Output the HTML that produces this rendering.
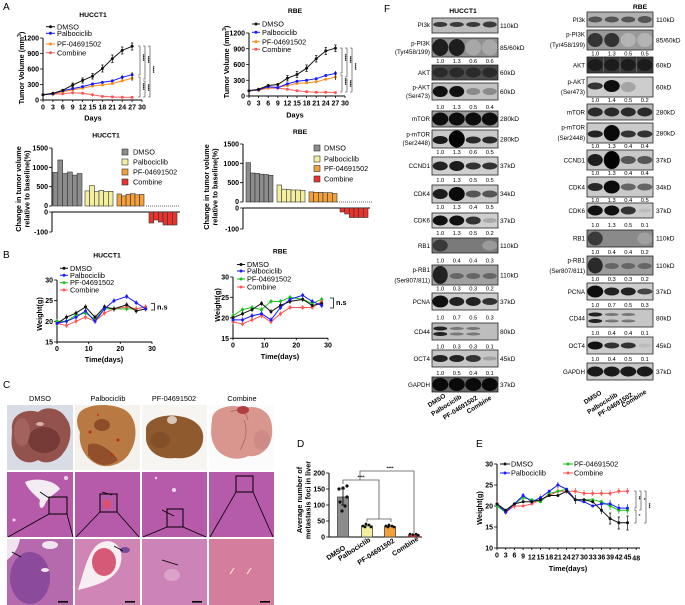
<!DOCTYPE html>
<html><head><meta charset="utf-8">
<style>
html,body{margin:0;padding:0;background:#fff;}
svg{display:block;font-family:"Liberation Sans",Arial,sans-serif;}
.tk{font-size:7px;font-weight:bold;}
.lg{font-size:7.3px;}
.tt{font-size:6.8px;font-weight:bold;}
.ax{font-size:7.3px;font-weight:bold;}
.pl{font-size:10px;}
.bl{font-size:6.2px;}
.kd{font-size:6.6px;}
.nm{font-size:5.8px;}
.st{font-size:4.5px;font-weight:bold;}
.rl{font-size:6.5px;font-weight:bold;}
</style></head><body>
<svg width="685" height="605" viewBox="0 0 685 605" xmlns="http://www.w3.org/2000/svg">
<rect width="685" height="605" fill="#fff"/>
<defs>
<marker id="mk" markerWidth="4" markerHeight="4" refX="2" refY="2" markerUnits="userSpaceOnUse"><circle cx="2" cy="2" r="1.5" fill="#111"/></marker>
<marker id="mb" markerWidth="4" markerHeight="4" refX="2" refY="2" markerUnits="userSpaceOnUse"><circle cx="2" cy="2" r="1.5" fill="#1a1aff"/></marker>
<marker id="mo" markerWidth="4" markerHeight="4" refX="2" refY="2" markerUnits="userSpaceOnUse"><circle cx="2" cy="2" r="1.5" fill="#ff8c1a"/></marker>
<marker id="mg" markerWidth="4" markerHeight="4" refX="2" refY="2" markerUnits="userSpaceOnUse"><circle cx="2" cy="2" r="1.5" fill="#19c219"/></marker>
<marker id="mr" markerWidth="4" markerHeight="4" refX="2" refY="2" markerUnits="userSpaceOnUse"><circle cx="2" cy="2" r="1.5" fill="#ff5555"/></marker>
</defs>

<!-- ============ PANEL A top HUCCT1 ============ -->
<text x="3" y="10" class="pl">A</text>
<text x="93" y="17" class="tt" text-anchor="middle">HUCCT1</text>
<path d="M43 38V100H142" fill="none" stroke="#000" stroke-width="1"/>
<path d="M40 38h3M40 53.5h3M40 69h3M40 84.5h3M40 100h3M43 100v2M52.9 100v2M62.8 100v2M72.7 100v2M82.6 100v2M92.5 100v2M102.4 100v2M112.3 100v2M122.2 100v2M132.1 100v2M142 100v2" stroke="#000" stroke-width="0.8"/>
<g class="tk" text-anchor="end"><text x="39" y="40.5">1200</text><text x="39" y="56">900</text><text x="39" y="71.5">600</text><text x="39" y="87">300</text><text x="39" y="102.5">0</text></g>
<g class="tk" text-anchor="middle"><text x="43" y="109.5">0</text><text x="52.9" y="109.5">3</text><text x="62.8" y="109.5">6</text><text x="72.7" y="109.5">9</text><text x="82.6" y="109.5">12</text><text x="92.5" y="109.5">15</text><text x="102.4" y="109.5">18</text><text x="112.3" y="109.5">21</text><text x="122.2" y="109.5">24</text><text x="132.1" y="109.5">27</text><text x="142" y="109.5">30</text></g>
<text class="ax" x="93" y="120.5" text-anchor="middle">Days</text>
<text class="ax" transform="translate(24,68) rotate(-90)" text-anchor="middle">Tumor Volume (mm<tspan font-size="5" dy="-3">3</tspan><tspan dy="3">)</tspan></text>
<polyline points="43,94.8 52.9,94.3 62.8,93.8 72.7,92.8 82.6,93.3 92.5,94.8 102.4,96.4 112.3,96.9 122.2,97.2 132.1,97.4" fill="none" stroke="#ff6060" stroke-width="1" marker-start="url(#mr)" marker-mid="url(#mr)" marker-end="url(#mr)"/>
<polyline points="43,94.8 52.9,94.3 62.8,91.7 72.7,89.7 82.6,88.1 92.5,86 102.4,85 112.3,83.5 122.2,80.9 132.1,78.3" fill="none" stroke="#ff8c1a" stroke-width="1" marker-start="url(#mo)" marker-mid="url(#mo)" marker-end="url(#mo)"/>
<polyline points="43,94.8 52.9,93.8 62.8,90.7 72.7,88.6 82.6,86.6 92.5,84 102.4,82.4 112.3,80.9 122.2,77.3 132.1,74.7" fill="none" stroke="#1a1aff" stroke-width="1" marker-start="url(#mb)" marker-mid="url(#mb)" marker-end="url(#mb)"/>
<polyline points="43,94.8 52.9,93.3 62.8,90.2 72.7,85 82.6,80.4 92.5,76.2 102.4,68.5 112.3,58.7 122.2,50.4 132.1,46.3" fill="none" stroke="#111" stroke-width="1" marker-start="url(#mk)" marker-mid="url(#mk)" marker-end="url(#mk)"/>
<path d="M72.7 83V87M82.6 78V83M92.5 73.5V79M102.4 65V72M112.3 55V62.5M122.2 47V54M132.1 43V50M71.5 83h2.4M71.5 87h2.4M81.4 78h2.4M81.4 83h2.4M91.3 73.5h2.4M91.3 79h2.4M101.2 65h2.4M101.2 72h2.4M111.1 55h2.4M111.1 62.5h2.4M121 47h2.4M121 54h2.4M130.9 43h2.4M130.9 50h2.4M122.2 75v4.5M132.1 72v5.5M132.1 75.5v5.5" stroke="#111" stroke-width="0.7"/>
<path d="M138 46h2V75h-2M138 77h2V97h-2M143 46h2V79h-2M143 81h2V97h-2M148 46h2V97h-2" fill="none" stroke="#333" stroke-width="0.6"/>
<g class="st"><text transform="translate(141.5,54) rotate(90)">****</text><text transform="translate(141.5,83) rotate(90)">****</text><text transform="translate(146.5,56) rotate(90)">****</text><text transform="translate(146.5,84) rotate(90)">****</text><text transform="translate(151.5,66) rotate(90)">****</text></g>
<g class="lg">
<polyline points="46,26.7 50.5,26.7 55,26.7" stroke="#111" stroke-width="1" marker-mid="url(#mk)"/><text x="57" y="29.3">DMSO</text>
<polyline points="46,33.3 50.5,33.3 55,33.3" stroke="#1a1aff" stroke-width="1" marker-mid="url(#mb)"/><text x="57" y="35.9">Palbociclib</text>
<polyline points="46,44 50.5,44 55,44" stroke="#ff8c1a" stroke-width="1" marker-mid="url(#mo)"/><text x="57" y="46.6">PF-04691502</text>
<polyline points="46,52.7 50.5,52.7 55,52.7" stroke="#ff6060" stroke-width="1" marker-mid="url(#mr)"/><text x="57" y="55.3">Combine</text>
</g>

<!-- ============ PANEL A top RBE ============ -->
<text x="295" y="13" class="tt" text-anchor="middle">RBE</text>
<path d="M249 33V96H345" fill="none" stroke="#000" stroke-width="1"/>
<path d="M246 33h3M246 48.75h3M246 64.5h3M246 80.25h3M246 96h3M249 96v2M258.6 96v2M268.2 96v2M277.8 96v2M287.4 96v2M297 96v2M306.6 96v2M316.2 96v2M325.8 96v2M335.4 96v2M345 96v2" stroke="#000" stroke-width="0.8"/>
<g class="tk" text-anchor="end"><text x="245" y="35.5">1200</text><text x="245" y="51.25">900</text><text x="245" y="67">600</text><text x="245" y="82.75">300</text><text x="245" y="98.5">0</text></g>
<g class="tk" text-anchor="middle"><text x="249" y="105.5">0</text><text x="258.6" y="105.5">3</text><text x="268.2" y="105.5">6</text><text x="277.8" y="105.5">9</text><text x="287.4" y="105.5">12</text><text x="297" y="105.5">15</text><text x="306.6" y="105.5">18</text><text x="316.2" y="105.5">21</text><text x="325.8" y="105.5">24</text><text x="335.4" y="105.5">27</text><text x="345" y="105.5">30</text></g>
<text class="ax" x="295" y="117.5" text-anchor="middle">Days</text>
<text class="ax" transform="translate(229,62) rotate(-90)" text-anchor="middle">Tumor Volume (mm<tspan font-size="5" dy="-3">3</tspan><tspan dy="3">)</tspan></text>
<polyline points="249,90.8 258.6,90.2 268.2,88.1 277.8,88.1 287.4,89.2 297,90.8 306.6,91.8 316.2,92.3 325.8,92.3 335.4,92.6" fill="none" stroke="#ff6060" stroke-width="1" marker-start="url(#mr)" marker-mid="url(#mr)" marker-end="url(#mr)"/>
<polyline points="249,90.8 258.6,90.2 268.2,87.6 277.8,87.1 287.4,85.5 297,83.4 306.6,82.9 316.2,81.8 325.8,79.2 335.4,77.1" fill="none" stroke="#ff8c1a" stroke-width="1" marker-start="url(#mo)" marker-mid="url(#mo)" marker-end="url(#mo)"/>
<polyline points="249,90.8 258.6,89.7 268.2,86.6 277.8,87.6 287.4,83.9 297,81.3 306.6,80.3 316.2,78.7 325.8,75.5 335.4,73.4" fill="none" stroke="#1a1aff" stroke-width="1" marker-start="url(#mb)" marker-mid="url(#mb)" marker-end="url(#mb)"/>
<polyline points="249,90.8 258.6,89.2 268.2,85.5 277.8,84.5 287.4,78.2 297,74.5 306.6,68.2 316.2,58.7 325.8,50.9 335.4,48.2" fill="none" stroke="#111" stroke-width="1" marker-start="url(#mk)" marker-mid="url(#mk)" marker-end="url(#mk)"/>
<path d="M287.4 75.5V81M297 71.5V77.5M306.6 65V71.5M316.2 55.5V62M325.8 47.5V54.5M335.4 45V51.5M286.2 75.5h2.4M286.2 81h2.4M295.8 71.5h2.4M295.8 77.5h2.4M305.4 65h2.4M305.4 71.5h2.4M315 55.5h2.4M315 62h2.4M324.6 47.5h2.4M324.6 54.5h2.4M334.2 45h2.4M334.2 51.5h2.4M335.4 71v5M335.4 74.5v5.5" stroke="#111" stroke-width="0.7"/>
<path d="M340 48h2V73h-2M340 75h2V92h-2M345 48h2V77h-2M345 79h2V92h-2M350 48h2V92h-2" fill="none" stroke="#333" stroke-width="0.6"/>
<g class="st"><text transform="translate(343.5,54) rotate(90)">****</text><text transform="translate(343.5,78) rotate(90)">****</text><text transform="translate(348.5,56) rotate(90)">****</text><text transform="translate(348.5,80) rotate(90)">****</text><text transform="translate(353.5,63) rotate(90)">****</text></g>
<g class="lg">
<polyline points="252,24 256,24 260,24" stroke="#111" stroke-width="1" marker-mid="url(#mk)"/><text x="262" y="26.6">DMSO</text>
<polyline points="252,32.3 256,32.3 260,32.3" stroke="#1a1aff" stroke-width="1" marker-mid="url(#mb)"/><text x="262" y="34.9">Palbociclib</text>
<polyline points="252,41.7 256,41.7 260,41.7" stroke="#ff8c1a" stroke-width="1" marker-mid="url(#mo)"/><text x="262" y="44.3">PF-04691502</text>
<polyline points="252,49.3 256,49.3 260,49.3" stroke="#ff6060" stroke-width="1" marker-mid="url(#mr)"/><text x="262" y="51.9">Combine</text>
</g>

<!-- ============ PANEL A waterfall HUCCT1 ============ -->
<text x="106" y="137.5" class="tt" text-anchor="middle">HUCCT1</text>
<path d="M52 148V206M52 212V232M52 212H180" fill="none" stroke="#000" stroke-width="1"/>
<path d="M49 148h3M49 167.3h3M49 186.7h3M49 206h3M49 212h3M49 232h3" stroke="#000" stroke-width="0.8"/>
<g class="tk" text-anchor="end"><text x="48" y="150.5">1500</text><text x="48" y="169.8">1000</text><text x="48" y="189.2">500</text><text x="48" y="208">0</text><text x="48" y="214.5">0</text><text x="48" y="234.5">-100</text></g>
<text class="ax" transform="translate(21,189) rotate(-90)" text-anchor="middle">Change in tumor volume</text>
<text class="ax" transform="translate(29.5,189) rotate(-90)" text-anchor="middle">relative to baseline(%)</text>
<g stroke="#333" stroke-width="0.6">
<g fill="#8c8c8c"><rect x="53" y="172.4" width="4.83" height="33.6"/><rect x="57.83" y="160" width="4.83" height="46"/><rect x="62.67" y="173.5" width="4.83" height="32.5"/><rect x="67.5" y="172" width="4.83" height="34"/><rect x="72.33" y="175.1" width="4.83" height="30.9"/><rect x="77.17" y="173.5" width="4.83" height="32.5"/></g>
<g fill="#f3ef9e"><rect x="85" y="190.9" width="4.67" height="15.1"/><rect x="89.67" y="185.5" width="4.67" height="20.5"/><rect x="94.33" y="191.7" width="4.67" height="14.3"/><rect x="99" y="190.5" width="4.67" height="15.5"/><rect x="103.67" y="191.7" width="4.67" height="14.3"/><rect x="108.33" y="191.3" width="4.67" height="14.7"/></g>
<g fill="#f4a03a"><rect x="117" y="194" width="4.5" height="12"/><rect x="121.5" y="195.9" width="4.5" height="10.1"/><rect x="126" y="194.4" width="4.5" height="11.6"/><rect x="130.5" y="193.6" width="4.5" height="12.4"/><rect x="135" y="194.8" width="4.5" height="11.2"/><rect x="139.5" y="194.4" width="4.5" height="11.6"/></g>
<g fill="#e8342c"><rect x="149" y="212" width="4.67" height="11"/><rect x="153.67" y="212" width="4.67" height="8"/><rect x="158.33" y="212" width="4.67" height="10"/><rect x="163" y="212" width="4.67" height="13"/><rect x="167.67" y="212" width="4.67" height="13"/><rect x="172.33" y="212" width="4.67" height="13"/></g>
</g>
<path d="M146 206H180" stroke="#333" stroke-width="0.7" stroke-dasharray="1 1"/>
<g class="lg">
<rect x="122" y="149" width="6" height="6" fill="#8c8c8c" stroke="#333" stroke-width="0.6"/><text x="133" y="154.5">DMSO</text>
<rect x="122" y="159" width="6" height="6" fill="#f3ef9e" stroke="#333" stroke-width="0.6"/><text x="133" y="164.5">Palbociclib</text>
<rect x="122" y="169" width="6" height="6" fill="#f4a03a" stroke="#333" stroke-width="0.6"/><text x="133" y="174.5">PF-04691502</text>
<rect x="122" y="179" width="6" height="6" fill="#e8342c" stroke="#333" stroke-width="0.6"/><text x="133" y="184.5">Combine</text>
</g>

<!-- ============ PANEL A waterfall RBE ============ -->
<text x="300" y="134" class="tt" text-anchor="middle">RBE</text>
<path d="M243 144V202M243 208V229M243 208H370" fill="none" stroke="#000" stroke-width="1"/>
<path d="M240 144h3M240 163.3h3M240 182.7h3M240 202h3M240 208h3M240 229h3" stroke="#000" stroke-width="0.8"/>
<g class="tk" text-anchor="end"><text x="239" y="146.5">1500</text><text x="239" y="165.8">1000</text><text x="239" y="185.2">500</text><text x="239" y="204">0</text><text x="239" y="210.5">0</text><text x="239" y="231.5">-100</text></g>
<text class="ax" transform="translate(209,187) rotate(-90)" text-anchor="middle">Change in tumor volume</text>
<text class="ax" transform="translate(217.5,187) rotate(-90)" text-anchor="middle">relative to baseline(%)</text>
<g stroke="#333" stroke-width="0.6">
<g fill="#8c8c8c"><rect x="246" y="162.6" width="4.5" height="39.4"/><rect x="250.5" y="173" width="4.5" height="29"/><rect x="255" y="173.4" width="4.5" height="28.6"/><rect x="259.5" y="174.2" width="4.5" height="27.8"/><rect x="264" y="174.5" width="4.5" height="27.5"/><rect x="268.5" y="175.3" width="4.5" height="26.7"/></g>
<g fill="#f3ef9e"><rect x="277" y="185" width="4.67" height="17"/><rect x="281.67" y="189.2" width="4.67" height="12.8"/><rect x="286.33" y="189.6" width="4.67" height="12.4"/><rect x="291" y="190" width="4.67" height="12"/><rect x="295.67" y="190" width="4.67" height="12"/><rect x="300.33" y="190.4" width="4.67" height="11.6"/></g>
<g fill="#f4a03a"><rect x="309" y="191.9" width="4.67" height="10.1"/><rect x="313.67" y="192.3" width="4.67" height="9.7"/><rect x="318.33" y="192.3" width="4.67" height="9.7"/><rect x="323" y="192.7" width="4.67" height="9.3"/><rect x="327.67" y="192.7" width="4.67" height="9.3"/><rect x="332.33" y="193.5" width="4.67" height="8.5"/></g>
<g fill="#e8342c"><rect x="340" y="208" width="4.67" height="4"/><rect x="344.67" y="208" width="4.67" height="6"/><rect x="349.33" y="208" width="4.67" height="9.5"/><rect x="354" y="208" width="4.67" height="9.5"/><rect x="358.67" y="208" width="4.67" height="9.5"/><rect x="363.33" y="208" width="4.67" height="9.5"/></g>
</g>
<path d="M337 202H372" stroke="#333" stroke-width="0.7" stroke-dasharray="1 1"/>
<g class="lg">
<rect x="314" y="145" width="6" height="6" fill="#8c8c8c" stroke="#333" stroke-width="0.6"/><text x="324" y="150.5">DMSO</text>
<rect x="314" y="156" width="6" height="6" fill="#f3ef9e" stroke="#333" stroke-width="0.6"/><text x="324" y="161.5">Palbociclib</text>
<rect x="314" y="165.5" width="6" height="6" fill="#f4a03a" stroke="#333" stroke-width="0.6"/><text x="324" y="171">PF-04691502</text>
<rect x="314" y="176" width="6" height="6" fill="#e8342c" stroke="#333" stroke-width="0.6"/><text x="324" y="181.5">Combine</text>
</g>

<!-- ============ PANEL B HUCCT1 ============ -->
<text x="3" y="258" class="pl">B</text>
<text x="107" y="257.5" class="tt" text-anchor="middle">HUCCT1</text>
<path d="M57 280V342H152" fill="none" stroke="#000" stroke-width="1"/>
<path d="M54 280h3M54 300.7h3M54 321.3h3M54 342h3M57 342v2M88.7 342v2M120.3 342v2M152 342v2" stroke="#000" stroke-width="0.8"/>
<g class="tk" text-anchor="end"><text x="53" y="282.5">30</text><text x="53" y="303.2">25</text><text x="53" y="323.8">20</text><text x="53" y="344.5">15</text></g>
<g class="tk" text-anchor="middle"><text x="57" y="351">0</text><text x="88.7" y="351">10</text><text x="120.3" y="351">20</text><text x="152" y="351">30</text></g>
<text class="ax" x="104" y="362" text-anchor="middle">Time(days)</text>
<text class="ax" transform="translate(42,314) rotate(-90)" text-anchor="middle">Weight(g)</text>
<path d="M57 318.8v5M66.5 318.8v5M76 312.6v5M85.5 310.6v5M95 316.8v5M104.5 306.4v5M114 306.4v5M126.7 306.4v5M136.2 306.4v5M145.7 304.4v5" stroke="#19c219" stroke-width="0.7"/>
<path d="M57 321v5M66.5 323v5M76 318.8v5M85.5 314.7v5M95 318.8v5M104.5 310.6v5M114 306.4v5M126.7 304.4v5M136.2 306.4v5M145.7 304.4v5" stroke="#ff5555" stroke-width="0.7"/>
<path d="M57 321v5M66.5 314.7v5M76 310.6v5M85.5 304.4v5M95 314.7v5M104.5 304.4v5M114 306.4v5M126.7 302.3v5M136.2 308.5v5M145.7 306.4v5" stroke="#111" stroke-width="0.7"/>
<path d="M57 321v5M66.5 318.8v5M76 314.7v5M85.5 308.5v5M95 318.8v5M104.5 306.4v5M114 298.2v5M126.7 294v5M136.2 300.2v5M145.7 306.4v5" stroke="#1a1aff" stroke-width="0.7"/>
<polyline points="57,321.3 66.5,321.3 76,315.1 85.5,313.1 95,319.3 104.5,308.9 114,308.9 126.7,308.9 136.2,308.9 145.7,306.9" fill="none" stroke="#19c219" stroke-width="1" marker-start="url(#mg)" marker-mid="url(#mg)" marker-end="url(#mg)"/>
<polyline points="57,323.4 66.5,325.5 76,321.3 85.5,317.2 95,321.3 104.5,313.1 114,308.9 126.7,306.9 136.2,308.9 145.7,306.9" fill="none" stroke="#ff5555" stroke-width="1" marker-start="url(#mr)" marker-mid="url(#mr)" marker-end="url(#mr)"/>
<polyline points="57,323.4 66.5,317.2 76,313.1 85.5,306.9 95,317.2 104.5,306.9 114,308.9 126.7,304.8 136.2,311 145.7,308.9" fill="none" stroke="#111" stroke-width="1" marker-start="url(#mk)" marker-mid="url(#mk)" marker-end="url(#mk)"/>
<polyline points="57,323.4 66.5,321.3 76,317.2 85.5,311 95,321.3 104.5,308.9 114,300.7 126.7,296.5 136.2,302.7 145.7,308.9" fill="none" stroke="#1a1aff" stroke-width="1" marker-start="url(#mb)" marker-mid="url(#mb)" marker-end="url(#mb)"/>
<path d="M151 303.5h3.5V310h-3.5" fill="none" stroke="#111" stroke-width="0.8"/>
<text x="157" y="309.5" class="ax">n.s</text>
<g class="lg">
<polyline points="60,268.3 64,268.3 68,268.3" stroke="#111" stroke-width="1" marker-mid="url(#mk)"/><text x="70" y="270.8">DMSO</text>
<polyline points="60,275.3 64,275.3 68,275.3" stroke="#1a1aff" stroke-width="1" marker-mid="url(#mb)"/><text x="70" y="277.8">Palbociclib</text>
<polyline points="60,282.7 64,282.7 68,282.7" stroke="#19c219" stroke-width="1" marker-mid="url(#mg)"/><text x="70" y="285.2">PF-04691502</text>
<polyline points="60,290 64,290 68,290" stroke="#ff5555" stroke-width="1" marker-mid="url(#mr)"/><text x="70" y="292.5">Combine</text>
</g>

<!-- ============ PANEL B RBE ============ -->
<text x="280" y="253.5" class="tt" text-anchor="middle">RBE</text>
<path d="M233 277V338.3H328" fill="none" stroke="#000" stroke-width="1"/>
<path d="M230 277h3M230 297.3h3M230 317.8h3M230 338.3h3M233 338.3v2M264.7 338.3v2M296.3 338.3v2M328 338.3v2" stroke="#000" stroke-width="0.8"/>
<g class="tk" text-anchor="end"><text x="229" y="279.5">30</text><text x="229" y="299.8">25</text><text x="229" y="320.3">20</text><text x="229" y="340.8">15</text></g>
<g class="tk" text-anchor="middle"><text x="233" y="347.5">0</text><text x="264.7" y="347.5">10</text><text x="296.3" y="347.5">20</text><text x="328" y="347.5">30</text></g>
<text class="ax" x="280" y="359" text-anchor="middle">Time(days)</text>
<text class="ax" transform="translate(220,305) rotate(-90)" text-anchor="middle">Weight(g)</text>
<path d="M233 313.2v5M242.5 307.1v5M252 305v5M261.5 307.1v5M271 298.9v5M280.5 298.9v5M290 294.8v5M302.7 296.8v5M312.2 301v5M321.7 296.8v5" stroke="#19c219" stroke-width="0.7"/>
<path d="M233 319.4v5M242.5 321.4v5M252 317.3v5M261.5 313.2v5M271 319.4v5M280.5 311.2v5M290 305v5M302.7 305v5M312.2 305v5M321.7 298.9v5" stroke="#ff5555" stroke-width="0.7"/>
<path d="M233 315.3v5M242.5 311.2v5M252 307.1v5M261.5 301v5M271 309.1v5M280.5 303v5M290 298.9v5M302.7 296.8v5M312.2 303v5M321.7 301v5" stroke="#111" stroke-width="0.7"/>
<path d="M233 317.3v5M242.5 317.3v5M252 313.2v5M261.5 311.2v5M271 317.3v5M280.5 305v5M290 296.8v5M302.7 292.7v5M312.2 298.9v5M321.7 303v5" stroke="#1a1aff" stroke-width="0.7"/>
<polyline points="233,315.75 242.5,309.6 252,307.55 261.5,309.6 271,301.4 280.5,301.4 290,297.3 302.7,299.35 312.2,303.45 321.7,299.35" fill="none" stroke="#19c219" stroke-width="1" marker-start="url(#mg)" marker-mid="url(#mg)" marker-end="url(#mg)"/>
<polyline points="233,321.9 242.5,323.95 252,319.85 261.5,315.75 271,321.9 280.5,313.7 290,307.55 302.7,307.55 312.2,307.55 321.7,301.4" fill="none" stroke="#ff5555" stroke-width="1" marker-start="url(#mr)" marker-mid="url(#mr)" marker-end="url(#mr)"/>
<polyline points="233,317.8 242.5,313.7 252,309.6 261.5,303.45 271,311.65 280.5,305.5 290,301.4 302.7,299.35 312.2,305.5 321.7,303.45" fill="none" stroke="#111" stroke-width="1" marker-start="url(#mk)" marker-mid="url(#mk)" marker-end="url(#mk)"/>
<polyline points="233,319.85 242.5,319.85 252,315.75 261.5,313.7 271,319.85 280.5,307.55 290,299.35 302.7,295.25 312.2,301.4 321.7,305.5" fill="none" stroke="#1a1aff" stroke-width="1" marker-start="url(#mb)" marker-mid="url(#mb)" marker-end="url(#mb)"/>
<path d="M330 298h3.5V308h-3.5" fill="none" stroke="#111" stroke-width="0.8"/>
<text x="336" y="305" class="ax">n.s</text>
<g class="lg">
<polyline points="237,264.5 241,264.5 245,264.5" stroke="#111" stroke-width="1" marker-mid="url(#mk)"/><text x="247" y="267">DMSO</text>
<polyline points="237,271 241,271 245,271" stroke="#1a1aff" stroke-width="1" marker-mid="url(#mb)"/><text x="247" y="273.5">Palbociclib</text>
<polyline points="237,279 241,279 245,279" stroke="#19c219" stroke-width="1" marker-mid="url(#mg)"/><text x="247" y="281.5">PF-04691502</text>
<polyline points="237,287 241,287 245,287" stroke="#ff5555" stroke-width="1" marker-mid="url(#mr)"/><text x="247" y="289.5">Combine</text>
</g>

<!-- ============ PANEL C ============ -->
<text x="3" y="388" class="pl">C</text>
<g class="lg" text-anchor="middle"><text x="40" y="401">DMSO</text><text x="108" y="401">Palbociclib</text><text x="174" y="401">PF-04691502</text><text x="242" y="401">Combine</text></g>
<!-- row 1 photos -->
<rect x="7" y="405" width="66" height="65" fill="#d8dde5"/>
<path d="M12 430C10 415 25 408 38 412C45 406 60 407 66 418C74 428 70 445 64 452C58 462 45 465 38 460C30 465 18 462 14 452C10 445 12 438 12 430Z" fill="#94524c"/>
<ellipse cx="44" cy="440" rx="16" ry="13" fill="#6e3532" opacity="0.8"/>
<ellipse cx="22" cy="432" rx="8" ry="14" fill="#a96a64" opacity="0.7"/>
<ellipse cx="40" cy="424" rx="4" ry="2" fill="#d8b0a8"/>
<rect x="75" y="405" width="65" height="65" fill="#f5f2ee"/>
<path d="M80 412C90 402 115 404 125 410C138 418 138 440 130 452C124 465 105 470 95 463C85 458 78 445 80 432C76 425 76 417 80 412Z" fill="#b87a42"/>
<path d="M88 445C95 440 110 448 118 460C108 468 95 466 88 455Z" fill="#8a4426" opacity="0.8"/>
<ellipse cx="102" cy="425" rx="8" ry="6" fill="#7a3a22" opacity="0.7"/>
<circle cx="90" cy="432" r="1.5" fill="#c02a1c"/><circle cx="118" cy="440" r="1.5" fill="#c02a1c"/><circle cx="98" cy="415" r="1" fill="#c02a1c"/><circle cx="112" cy="455" r="1.2" fill="#c02a1c"/>
<rect x="142" y="405" width="65" height="65" fill="#f7f5f1"/>
<path d="M146 428C148 418 165 414 178 416C195 418 205 428 203 440C202 452 190 460 175 458C160 460 148 452 146 440Z" fill="#8e5a2e"/>
<ellipse cx="172" cy="420" rx="5" ry="4" fill="#d8c8b8"/>
<ellipse cx="160" cy="440" rx="10" ry="8" fill="#7a4a24" opacity="0.6"/>
<rect x="209" y="405" width="65" height="65" fill="#fbfbfb"/>
<path d="M212 420C212 406 235 404 245 408C258 404 272 412 272 428C274 445 262 458 248 456C238 462 220 458 214 445C210 437 211 428 212 420Z" fill="#d8968f"/>
<path d="M230 412C240 408 246 412 248 420M244 420C248 430 246 440 240 450" stroke="#b86e6e" stroke-width="1" fill="none"/>
<ellipse cx="243" cy="410" rx="6" ry="4" fill="#b04040"/>
<ellipse cx="262" cy="440" rx="8" ry="10" fill="#c98482" opacity="0.7"/>
<!-- row 2 histology -->
<rect x="7" y="472" width="66" height="65" fill="#b65aaa"/>
<path d="M25 482C35 477 55 480 60 489C55 494 48 497 45 504C42 511 38 508 40 500C35 495 28 490 25 482Z" fill="#f3ecf2"/>
<circle cx="66" cy="478" r="2" fill="#e9d6e8"/><circle cx="14" cy="520" r="1.5" fill="#e9d6e8"/>
<rect x="49" y="497" width="18" height="17" fill="none" stroke="#000" stroke-width="1"/>
<path d="M49 514L8 537M67 514L73 537M40 492l9 6" stroke="#000" stroke-width="0.8"/>
<rect x="75" y="472" width="65" height="65" fill="#b65aaa"/>
<ellipse cx="107" cy="504" rx="4" ry="5" fill="#d8506e"/>
<rect x="100" y="494" width="17" height="18" fill="none" stroke="#000" stroke-width="1"/>
<path d="M100 512L76 537M117 512L139 537M102 492l10 3" stroke="#000" stroke-width="0.8"/>
<rect x="142" y="472" width="65" height="65" fill="#b65aaa"/>
<circle cx="174" cy="490" r="2" fill="#eadcea"/><circle cx="156" cy="478" r="1.2" fill="#eadcea"/>
<rect x="167" y="509" width="16" height="18" fill="none" stroke="#000" stroke-width="1"/>
<path d="M167 527L143 537M183 527L206 537M162 510l12 6" stroke="#000" stroke-width="0.8"/>
<rect x="209" y="472" width="65" height="65" fill="#b65aaa"/>
<rect x="236" y="476" width="17" height="16" fill="none" stroke="#000" stroke-width="1"/>
<path d="M236 492L210 537M253 492L273 537" stroke="#000" stroke-width="0.8"/>
<!-- row 3 high mag -->
<rect x="7" y="539" width="66" height="66" fill="#b46aac"/>
<ellipse cx="30" cy="578" rx="20" ry="26" fill="#8c4a9c"/>
<path d="M7 539H20C18 550 12 556 7 560Z" fill="#efe4ee"/>
<ellipse cx="50" cy="545" rx="8" ry="4" fill="#efe4ee"/>
<ellipse cx="45" cy="570" rx="4" ry="2" fill="#efe4ee"/>
<path d="M12 552l9 5" stroke="#000" stroke-width="0.8"/>
<rect x="75" y="539" width="65" height="66" fill="#cf86b6"/>
<path d="M78 590C84 572 88 550 100 543C112 537 124 546 121 562C118 578 100 585 78 590Z" fill="#f6eef0"/>
<ellipse cx="104" cy="562" rx="12" ry="14" fill="#d65a78"/>
<ellipse cx="125" cy="550" rx="5" ry="3" fill="#7a4a9a"/>
<path d="M114 546l9 5" stroke="#000" stroke-width="0.8"/>
<rect x="142" y="539" width="65" height="66" fill="#cc84b8"/>
<ellipse cx="172" cy="575" rx="8" ry="6" fill="#dca2c8"/>
<path d="M162 560l16 5" stroke="#000" stroke-width="0.8"/>
<rect x="209" y="539" width="65" height="66" fill="#d47d9c"/>
<path d="M230 574l4 -6M247 574l4 -6" stroke="#f4e0c8" stroke-width="1.2"/>
<g fill="#000"><rect x="58" y="601" width="10" height="1.6"/><rect x="125" y="601" width="10" height="1.6"/><rect x="192" y="601" width="10" height="1.6"/><rect x="260" y="601" width="10" height="1.6"/></g>

<!-- ============ PANEL D ============ -->
<text x="297" y="447" class="pl">D</text>
<text class="ax" transform="translate(302,500) rotate(-90)" text-anchor="middle">Average number of</text>
<text class="ax" transform="translate(310.5,500) rotate(-90)" text-anchor="middle">metastasis foci in liver</text>
<path d="M329 473V537H422" fill="none" stroke="#000" stroke-width="1"/>
<path d="M326 473h3M326 489h3M326 505h3M326 521h3M326 537h3" stroke="#000" stroke-width="0.8"/>
<g class="tk" text-anchor="end"><text x="325" y="475.5">200</text><text x="325" y="491.5">150</text><text x="325" y="507.5">100</text><text x="325" y="523.5">50</text><text x="325" y="539.5">0</text></g>
<rect x="337.5" y="497" width="11" height="40" fill="#8c8c8c" stroke="#333" stroke-width="0.7"/>
<rect x="361.5" y="525.8" width="11" height="11.2" fill="#f3ef9e" stroke="#333" stroke-width="0.7"/>
<rect x="384.5" y="526.4" width="11" height="10.6" fill="#f4a03a" stroke="#333" stroke-width="0.7"/>
<rect x="408.5" y="534.8" width="11" height="2.2" fill="#e8342c" stroke="#333" stroke-width="0.7"/>
<path d="M343 489V505M341 489h4M341 505h4" stroke="#000" stroke-width="0.8"/>
<g fill="#111"><circle cx="339" cy="489" r="1.6"/><circle cx="343" cy="488" r="1.6"/><circle cx="347" cy="486" r="1.6"/><circle cx="340" cy="502" r="1.6"/><circle cx="345" cy="506" r="1.6"/><circle cx="342" cy="511" r="1.6"/><circle cx="347" cy="497" r="1.6"/>
<circle cx="363" cy="526" r="1.4"/><circle cx="366" cy="524" r="1.4"/><circle cx="369" cy="525" r="1.4"/><circle cx="371" cy="527" r="1.4"/><circle cx="365" cy="527" r="1.4"/>
<circle cx="386" cy="526" r="1.4"/><circle cx="389" cy="525" r="1.4"/><circle cx="392" cy="526" r="1.4"/><circle cx="394" cy="527" r="1.4"/><circle cx="388" cy="527" r="1.4"/>
<circle cx="410" cy="534" r="1.3"/><circle cx="413" cy="534.5" r="1.3"/><circle cx="416" cy="534" r="1.3"/><circle cx="418" cy="535" r="1.3"/></g>
<path d="M343 484V480H379V519M367 522V519H391V522M360 480V471H414V533" fill="none" stroke="#555" stroke-width="0.8"/>
<g class="st" font-size="5"><text x="361" y="478.5" text-anchor="middle">****</text><text x="390" y="469.5" text-anchor="middle">****</text></g>
<g class="tk" text-anchor="end"><text transform="translate(346,549) rotate(-33)">DMSO</text><text transform="translate(371,541) rotate(-33)">Palbociclib</text><text transform="translate(395,542) rotate(-33)">PF-04691502</text><text transform="translate(419,540) rotate(-33)">Combine</text></g>

<!-- ============ PANEL E ============ -->
<text x="476" y="447" class="pl">E</text>
<path d="M497 464V548H640" fill="none" stroke="#000" stroke-width="1"/>
<path d="M494 464h3M494 485h3M494 506h3M494 527h3M494 548h3M497 548v2M505.7 548v2M514.4 548v2M523.1 548v2M531.8 548v2M540.5 548v2M549.2 548v2M557.9 548v2M566.6 548v2M575.3 548v2M584 548v2M592.7 548v2M601.4 548v2M610.1 548v2M618.8 548v2M627.5 548v2M636.2 548v2" stroke="#000" stroke-width="0.8"/>
<g class="tk" text-anchor="end"><text x="493" y="466.5">30</text><text x="493" y="487.5">25</text><text x="493" y="508.5">20</text><text x="493" y="529.5">15</text><text x="493" y="550.5">10</text></g>
<g class="tk" text-anchor="middle" font-size="6.5"><text x="497" y="557.5">0</text><text x="505.7" y="557.5">3</text><text x="514.4" y="557.5">6</text><text x="523.1" y="558.5">9</text><text x="531.8" y="559.5">12</text><text x="540.5" y="559.5">15</text><text x="549.2" y="559.5">18</text><text x="557.9" y="559.5">21</text><text x="566.6" y="559.5">24</text><text x="575.3" y="559.5">27</text><text x="584" y="559.5">30</text><text x="592.7" y="559.5">33</text><text x="601.4" y="559.5">36</text><text x="610.1" y="559.5">39</text><text x="618.8" y="559.5">42</text><text x="627.5" y="559.5">45</text><text x="636.2" y="560.5">48</text></g>
<text class="ax" x="568" y="571" text-anchor="middle">Time(days)</text>
<text class="ax" transform="translate(482,508) rotate(-90)" text-anchor="middle">Weight(g)</text>
<path d="M497 501v6M505.7 509v6M514.4 503v6M523.1 495v6M531.8 499v6M540.5 494v6M549.2 490v6M557.9 488v6M566.6 488v6M575.3 488v6M584 490v6M592.7 490v6M601.4 490v6M610.1 490v6M618.8 488v6M627.5 488v6" stroke="#ff5555" stroke-width="0.7"/>
<path d="M523.1 493v9M557.9 482v6M601.4 500v7M610.1 500v7M618.8 504v8M627.5 504v8" stroke="#1a1aff" stroke-width="0.7"/>
<path d="M523.1 494v7M610.1 502v8M618.8 506v8M627.5 506v8" stroke="#19c219" stroke-width="0.7"/>
<path d="M575.3 495v9M601.4 506v8M610.1 513v11M618.8 517v12M627.5 516v14M608.9 513h2.4M608.9 524h2.4M617.6 517h2.4M617.6 529h2.4M626.3 516h2.4M626.3 530h2.4" stroke="#111" stroke-width="0.7"/>
<polyline points="497,503.9 505.7,512.3 514.4,506 523.1,506 531.8,503.9 540.5,499.7 549.2,495.5 557.9,491.3 566.6,491.3 575.3,491.3 584,493.4 592.7,493.4 601.4,493.4 610.1,493.4 618.8,491.3 627.5,491.3" fill="none" stroke="#ff5555" stroke-width="1" marker-start="url(#mr)" marker-mid="url(#mr)" marker-end="url(#mr)"/>
<polyline points="497,506 505.7,512.3 514.4,503.9 523.1,497.6 531.8,499.7 540.5,501.8 549.2,493.4 557.9,491.3 566.6,489.2 575.3,499.7 584,499.7 592.7,499.7 601.4,501.8 610.1,506 618.8,510.2 627.5,510.2" fill="none" stroke="#19c219" stroke-width="1" marker-start="url(#mg)" marker-mid="url(#mg)" marker-end="url(#mg)"/>
<polyline points="497,503.9 505.7,512.3 514.4,503.9 523.1,495.5 531.8,501.8 540.5,497.6 549.2,491.3 557.9,485 566.6,489.2 575.3,499.7 584,501.8 592.7,506 601.4,503.9 610.1,503.9 618.8,508.1 627.5,508.1" fill="none" stroke="#1a1aff" stroke-width="1" marker-start="url(#mb)" marker-mid="url(#mb)" marker-end="url(#mb)"/>
<polyline points="497,503.9 505.7,510.2 514.4,503.9 523.1,501.8 531.8,501.8 540.5,499.7 549.2,495.5 557.9,495.5 566.6,491.3 575.3,499.7 584,499.7 592.7,501.8 601.4,510.2 610.1,518.6 618.8,522.8 627.5,522.8" fill="none" stroke="#111" stroke-width="1" marker-start="url(#mk)" marker-mid="url(#mk)" marker-end="url(#mk)"/>
<path d="M634 491h2V508h-2M634 510h2V523h-2M639 491h2V510h-2M644 491h2V523h-2" fill="none" stroke="#333" stroke-width="0.6"/>
<g class="st" font-size="5"><text transform="translate(637.5,496) rotate(90)">**</text><text transform="translate(637.5,514) rotate(90)">*</text><text transform="translate(642.5,498) rotate(90)">*</text><text transform="translate(647.5,503) rotate(90)">***</text></g>
<g class="lg">
<polyline points="500,464 505,464 510,464" stroke="#111" stroke-width="1" marker-mid="url(#mk)"/><text x="511" y="466.5">DMSO</text>
<polyline points="500,473 505,473 510,473" stroke="#1a1aff" stroke-width="1" marker-mid="url(#mb)"/><text x="511" y="475.5">Palbociclib</text>
<polyline points="563,464 568,464 573,464" stroke="#19c219" stroke-width="1" marker-mid="url(#mg)"/><text x="574" y="466.5">PF-04691502</text>
<polyline points="563,473 568,473 573,473" stroke="#ff5555" stroke-width="1" marker-mid="url(#mr)"/><text x="574" y="475.5">Combine</text>
</g>

<!-- ============ PANEL F HUCCT1 ============ -->
<text x="384" y="12" class="pl">F</text>
<text x="463" y="13" class="tt" text-anchor="middle">HUCCT1</text>
<g>
<rect x="432" y="18" width="66" height="15" fill="#bdbdbd"/>
<g fill="#3a3a3a"><ellipse cx="440.25" cy="24.5" rx="7" ry="2.5"/><ellipse cx="456.75" cy="24.5" rx="7" ry="2.5"/><ellipse cx="473.25" cy="24.5" rx="7" ry="2.5"/><ellipse cx="489.75" cy="24.5" rx="7" ry="3"/></g>
<rect x="432" y="38" width="66" height="19" fill="#8f8f8f"/>
<g fill="#1e1e1e"><ellipse cx="440.25" cy="47.5" rx="8" ry="8.5"/><ellipse cx="456.75" cy="47.5" rx="8" ry="8.5"/></g><g fill="#a8a8a8"><ellipse cx="473.25" cy="47.5" rx="8" ry="8"/><ellipse cx="489.75" cy="47.5" rx="8" ry="8"/></g>
<rect x="432" y="65" width="66" height="15" fill="#4c4c4c"/>
<g fill="#2a2a2a"><ellipse cx="440.25" cy="72.5" rx="7.5" ry="5"/><ellipse cx="456.75" cy="72.5" rx="7.5" ry="5"/><ellipse cx="473.25" cy="72.5" rx="7.5" ry="5"/><ellipse cx="489.75" cy="72.5" rx="7.5" ry="5"/></g>
<rect x="432" y="83" width="66" height="17" fill="#c2c2c2"/>
<g fill="#111"><ellipse cx="440.25" cy="91.5" rx="7.5" ry="5.5"/><ellipse cx="456.75" cy="91.5" rx="7.5" ry="5.5"/></g><g fill="#8a8a8a"><ellipse cx="473.25" cy="91.5" rx="7" ry="3.5"/><ellipse cx="489.75" cy="91.5" rx="7" ry="3.5"/></g>
<rect x="432" y="111" width="66" height="16" fill="#9a9a9a"/>
<g fill="#0e0e0e"><ellipse cx="440.25" cy="119" rx="8" ry="6.5"/><ellipse cx="456.75" cy="119" rx="8" ry="6.5"/><ellipse cx="473.25" cy="119" rx="8" ry="6.5"/><ellipse cx="489.75" cy="119" rx="8" ry="6.5"/></g>
<rect x="432" y="130" width="66" height="18" fill="#c9c9c9"/>
<ellipse cx="440.25" cy="140" rx="7.5" ry="4" fill="#1a1a1a"/><ellipse cx="456.75" cy="139" rx="8" ry="8.5" fill="#050505"/><ellipse cx="473.25" cy="140" rx="7.5" ry="3.5" fill="#2a2a2a"/><ellipse cx="489.75" cy="140" rx="7.5" ry="3.5" fill="#2a2a2a"/>
<rect x="432" y="157" width="66" height="18" fill="#cfcfcf"/>
<ellipse cx="440.25" cy="166" rx="7.5" ry="4.5" fill="#222"/><ellipse cx="456.75" cy="166" rx="7.5" ry="5" fill="#1a1a1a"/><ellipse cx="473.25" cy="166" rx="7.5" ry="3.5" fill="#333"/><ellipse cx="489.75" cy="166" rx="7.5" ry="3.5" fill="#333"/>
<rect x="432" y="185" width="66" height="18" fill="#c8c8c8"/>
<ellipse cx="440.25" cy="194" rx="7.5" ry="5" fill="#1c1c1c"/><ellipse cx="456.75" cy="194" rx="8" ry="7" fill="#0a0a0a"/><ellipse cx="473.25" cy="194" rx="7.5" ry="3.5" fill="#555"/><ellipse cx="489.75" cy="194" rx="7.5" ry="3.5" fill="#555"/>
<rect x="432" y="213" width="66" height="15" fill="#cfcfcf"/>
<ellipse cx="440.25" cy="220.5" rx="7.5" ry="5" fill="#111"/><ellipse cx="456.75" cy="220.5" rx="7.5" ry="5" fill="#111"/><ellipse cx="473.25" cy="220.5" rx="7.5" ry="4" fill="#333"/><ellipse cx="489.75" cy="220.5" rx="7" ry="2.5" fill="#aaa"/>
<rect x="432" y="238" width="66" height="15" fill="#7a7a7a"/>
<ellipse cx="440.25" cy="245.5" rx="7.5" ry="6" fill="#3a3a3a"/><ellipse cx="489.75" cy="245.5" rx="7.5" ry="5" fill="#9a9a9a"/>
<rect x="432" y="265" width="66" height="20" fill="#a0a0a0"/>
<ellipse cx="440.25" cy="275" rx="7.5" ry="9" fill="#222"/><g fill="#666"><ellipse cx="456.75" cy="276" rx="7" ry="3"/><ellipse cx="473.25" cy="276" rx="7" ry="3"/><ellipse cx="489.75" cy="276" rx="7" ry="3"/></g>
<rect x="432" y="293" width="66" height="17" fill="#cdcdcd"/>
<ellipse cx="440.25" cy="301.5" rx="8" ry="6" fill="#111"/><ellipse cx="456.75" cy="301.5" rx="7.5" ry="4.5" fill="#222"/><ellipse cx="473.25" cy="301.5" rx="7.5" ry="4.5" fill="#222"/><ellipse cx="489.75" cy="301.5" rx="7.5" ry="3.5" fill="#333"/>
<rect x="432" y="323" width="66" height="17" fill="#bdbdbd"/>
<g fill="#222"><ellipse cx="440.25" cy="328.5" rx="7" ry="2"/><ellipse cx="440.25" cy="334" rx="7" ry="2"/></g><g fill="#777"><ellipse cx="456.75" cy="328.5" rx="7" ry="1.5"/><ellipse cx="456.75" cy="334" rx="7" ry="1.5"/><ellipse cx="473.25" cy="328.5" rx="7" ry="1.5"/><ellipse cx="473.25" cy="334" rx="7" ry="1.5"/></g>
<rect x="432" y="350" width="66" height="17" fill="#c6c6c6"/>
<ellipse cx="440.25" cy="358.5" rx="7.5" ry="3.5" fill="#222"/><ellipse cx="456.75" cy="358.5" rx="7.5" ry="3.5" fill="#222"/><ellipse cx="473.25" cy="358.5" rx="7.5" ry="3.5" fill="#333"/><ellipse cx="489.75" cy="358.5" rx="7" ry="2" fill="#a0a0a0"/>
<rect x="432" y="377" width="66" height="15" fill="#666"/>
<g fill="#0a0a0a"><ellipse cx="440.25" cy="384.5" rx="8" ry="6.5"/><ellipse cx="456.75" cy="384.5" rx="8" ry="6.5"/><ellipse cx="473.25" cy="384.5" rx="8" ry="6.5"/><ellipse cx="489.75" cy="384.5" rx="8" ry="6.5"/></g>
<g fill="none" stroke="#222" stroke-width="0.8"><rect x="432" y="18" width="66" height="15"/><rect x="432" y="38" width="66" height="19"/><rect x="432" y="65" width="66" height="15"/><rect x="432" y="83" width="66" height="17"/><rect x="432" y="111" width="66" height="16"/><rect x="432" y="130" width="66" height="18"/><rect x="432" y="157" width="66" height="18"/><rect x="432" y="185" width="66" height="18"/><rect x="432" y="213" width="66" height="15"/><rect x="432" y="238" width="66" height="15"/><rect x="432" y="265" width="66" height="20"/><rect x="432" y="293" width="66" height="17"/><rect x="432" y="323" width="66" height="17"/><rect x="432" y="350" width="66" height="17"/><rect x="432" y="377" width="66" height="15"/></g>
</g>
<g class="bl" text-anchor="end">
<text x="430" y="27">PI3k</text><text x="430" y="45.5">p-PI3K</text><text x="430" y="54">(Tyr458/199)</text><text x="430" y="75">AKT</text><text x="430" y="89.5">p-AKT</text><text x="430" y="98">(Ser473)</text><text x="430" y="121">mTOR</text><text x="430" y="136.5">p-mTOR</text><text x="430" y="145">(Ser2448)</text><text x="430" y="168">CCND1</text><text x="430" y="196">CDK4</text><text x="430" y="222.5">CDK6</text><text x="430" y="248">RB1</text><text x="430" y="272">p-RB1</text><text x="430" y="282.5">(Ser807/811)</text><text x="430" y="304">PCNA</text><text x="430" y="334">CD44</text><text x="430" y="361">OCT4</text><text x="430" y="387">GAPDH</text>
</g>
<g class="kd">
<text x="500" y="28">110kD</text><text x="500" y="50">85/60kD</text><text x="500" y="75">60kD</text><text x="500" y="94">60kD</text><text x="500" y="121">280kD</text><text x="500" y="141.5">280kD</text><text x="500" y="168">37kD</text><text x="500" y="196">34kD</text><text x="500" y="223">37kD</text><text x="500" y="248">110kD</text><text x="500" y="277.5">110kD</text><text x="500" y="304">37kD</text><text x="500" y="334">80kD</text><text x="500" y="361">45kD</text><text x="500" y="387">37kD</text>
</g>
<g class="nm" text-anchor="middle">
<text x="440.25" y="63">1.0</text><text x="456.75" y="63">1.3</text><text x="473.25" y="63">0.6</text><text x="489.75" y="63">0.6</text>
<text x="440.25" y="109">1.0</text><text x="456.75" y="109">1.3</text><text x="473.25" y="109">0.5</text><text x="489.75" y="109">0.4</text>
<text x="440.25" y="154">1.0</text><text x="456.75" y="154">1.3</text><text x="473.25" y="154">0.6</text><text x="489.75" y="154">0.5</text>
<text x="440.25" y="182">1.0</text><text x="456.75" y="182">1.3</text><text x="473.25" y="182">0.5</text><text x="489.75" y="182">0.5</text>
<text x="440.25" y="209">1.0</text><text x="456.75" y="209">1.3</text><text x="473.25" y="209">0.4</text><text x="489.75" y="209">0.5</text>
<text x="440.25" y="235">1.0</text><text x="456.75" y="235">1.3</text><text x="473.25" y="235">0.5</text><text x="489.75" y="235">0.2</text>
<text x="440.25" y="262.5">1.0</text><text x="456.75" y="262.5">0.4</text><text x="473.25" y="262.5">0.4</text><text x="489.75" y="262.5">0.3</text>
<text x="440.25" y="290.5">1.0</text><text x="456.75" y="290.5">0.3</text><text x="473.25" y="290.5">0.3</text><text x="489.75" y="290.5">0.2</text>
<text x="440.25" y="319.5">1.0</text><text x="456.75" y="319.5">0.7</text><text x="473.25" y="319.5">0.5</text><text x="489.75" y="319.5">0.3</text>
<text x="440.25" y="348.5">1.0</text><text x="456.75" y="348.5">0.3</text><text x="473.25" y="348.5">0.3</text><text x="489.75" y="348.5">0.1</text>
<text x="440.25" y="375">1.0</text><text x="456.75" y="375">0.5</text><text x="473.25" y="375">0.4</text><text x="489.75" y="375">0.1</text>
</g>
<g class="rl" text-anchor="end"><text transform="translate(446,397) rotate(-32)">DMSO</text><text transform="translate(462,398) rotate(-32)">Palbociclib</text><text transform="translate(478,399) rotate(-32)">PF-04691502</text><text transform="translate(492,399) rotate(-32)">Combine</text></g>

<!-- ============ PANEL F RBE ============ -->
<text x="640" y="9" class="tt" text-anchor="middle">RBE</text>
<g>
<rect x="587" y="12" width="66" height="15" fill="#b0b0b0"/>
<g fill="#555"><ellipse cx="595.25" cy="19.5" rx="7" ry="3"/><ellipse cx="611.75" cy="19.5" rx="7" ry="3"/><ellipse cx="628.25" cy="19.5" rx="7" ry="3"/><ellipse cx="644.75" cy="19.5" rx="7" ry="3.5"/></g>
<rect x="587" y="30" width="66" height="20" fill="#999"/>
<g fill="#333"><ellipse cx="595.25" cy="40" rx="7.5" ry="7"/><ellipse cx="611.75" cy="40" rx="7.5" ry="7"/></g><g fill="#b4b4b4"><ellipse cx="628.25" cy="40" rx="7.5" ry="7"/><ellipse cx="644.75" cy="40" rx="7.5" ry="7"/></g>
<rect x="587" y="57" width="66" height="16" fill="#3a3a3a"/>
<g fill="#1c1c1c"><ellipse cx="595.25" cy="65" rx="7.5" ry="6"/><ellipse cx="611.75" cy="65" rx="7.5" ry="6"/><ellipse cx="628.25" cy="65" rx="7.5" ry="6"/><ellipse cx="644.75" cy="65" rx="7.5" ry="6"/></g>
<path d="M603.5 57v16M620 57v16M636.5 57v16" stroke="#777" stroke-width="0.6"/>
<rect x="587" y="77" width="66" height="20" fill="#cdcdcd"/>
<ellipse cx="595.25" cy="86" rx="7.5" ry="3.5" fill="#333"/><ellipse cx="611.75" cy="86" rx="8" ry="6" fill="#0e0e0e"/><ellipse cx="628.25" cy="87" rx="7.5" ry="5" fill="#a5a5a5"/>
<rect x="587" y="104" width="66" height="16" fill="#bbb"/>
<g fill="#2a2a2a"><ellipse cx="595.25" cy="112" rx="7.5" ry="4.5"/><ellipse cx="611.75" cy="112" rx="7.5" ry="4.5"/><ellipse cx="628.25" cy="112" rx="7.5" ry="4.5"/><ellipse cx="644.75" cy="112" rx="7.5" ry="4.5"/></g>
<rect x="587" y="123" width="66" height="20" fill="#cacaca"/>
<ellipse cx="595.25" cy="134" rx="7.5" ry="3.5" fill="#222"/><ellipse cx="611.75" cy="133" rx="8" ry="8" fill="#0a0a0a"/><ellipse cx="628.25" cy="134" rx="7.5" ry="3.5" fill="#333"/><ellipse cx="644.75" cy="134" rx="7.5" ry="3.5" fill="#333"/>
<rect x="587" y="150" width="66" height="20" fill="#c8c8c8"/>
<ellipse cx="595.25" cy="160" rx="7.5" ry="6" fill="#1e1e1e"/><ellipse cx="611.75" cy="160" rx="8" ry="9" fill="#050505"/><ellipse cx="628.25" cy="160" rx="7.5" ry="4" fill="#555"/><ellipse cx="644.75" cy="160" rx="7.5" ry="4" fill="#555"/>
<rect x="587" y="177" width="66" height="20" fill="#cacaca"/>
<ellipse cx="595.25" cy="187" rx="7.5" ry="4" fill="#2a2a2a"/><ellipse cx="611.75" cy="187" rx="8" ry="6.5" fill="#0c0c0c"/><ellipse cx="628.25" cy="187" rx="7.5" ry="3.5" fill="#666"/><ellipse cx="644.75" cy="187" rx="7.5" ry="3.5" fill="#666"/>
<rect x="587" y="203" width="66" height="15" fill="#ccc"/>
<ellipse cx="595.25" cy="210.5" rx="7.5" ry="5" fill="#111"/><ellipse cx="611.75" cy="210.5" rx="7.5" ry="5" fill="#111"/><ellipse cx="628.25" cy="210.5" rx="7.5" ry="4" fill="#333"/><ellipse cx="644.75" cy="210.5" rx="6" ry="2" fill="#bbb"/>
<rect x="587" y="230" width="66" height="17" fill="#8a8a8a"/>
<ellipse cx="595.25" cy="238.5" rx="7.5" ry="7" fill="#3a3a3a"/><ellipse cx="644.75" cy="238.5" rx="7.5" ry="6" fill="#a0a0a0"/>
<rect x="587" y="256" width="66" height="19" fill="#9c9c9c"/>
<ellipse cx="595.25" cy="265.5" rx="7.5" ry="8" fill="#2a2a2a"/><g fill="#666"><ellipse cx="611.75" cy="266" rx="7" ry="3"/><ellipse cx="628.25" cy="266" rx="7" ry="3"/><ellipse cx="644.75" cy="266" rx="7" ry="3"/></g>
<rect x="587" y="283" width="66" height="17" fill="#cdcdcd"/>
<ellipse cx="595.25" cy="291.5" rx="8" ry="6" fill="#0e0e0e"/><ellipse cx="611.75" cy="291.5" rx="7.5" ry="4" fill="#222"/><ellipse cx="628.25" cy="291.5" rx="7.5" ry="4" fill="#222"/><ellipse cx="644.75" cy="291.5" rx="7.5" ry="3" fill="#444"/>
<rect x="587" y="309" width="66" height="18" fill="#c6c6c6"/>
<g fill="#222"><ellipse cx="595.25" cy="314.5" rx="7" ry="2"/><ellipse cx="595.25" cy="321" rx="7" ry="2"/></g><g fill="#777"><ellipse cx="611.75" cy="314.5" rx="7" ry="1.5"/><ellipse cx="611.75" cy="321" rx="7" ry="1.5"/><ellipse cx="628.25" cy="314.5" rx="7" ry="1.5"/><ellipse cx="628.25" cy="321" rx="7" ry="1.5"/></g>
<rect x="587" y="337" width="66" height="17" fill="#cbcbcb"/>
<ellipse cx="595.25" cy="345.5" rx="7.5" ry="4" fill="#111"/><ellipse cx="611.75" cy="345.5" rx="7.5" ry="3" fill="#333"/><ellipse cx="628.25" cy="345.5" rx="7.5" ry="3" fill="#333"/><ellipse cx="644.75" cy="345.5" rx="6" ry="2" fill="#bbb"/>
<rect x="587" y="363" width="66" height="17" fill="#c8c8c8"/>
<g fill="#1a1a1a"><ellipse cx="595.25" cy="371.5" rx="8" ry="5"/><ellipse cx="611.75" cy="371.5" rx="8" ry="5"/><ellipse cx="628.25" cy="371.5" rx="8" ry="5"/><ellipse cx="644.75" cy="371.5" rx="8" ry="5"/></g>
<g fill="none" stroke="#222" stroke-width="0.8"><rect x="587" y="12" width="66" height="15"/><rect x="587" y="30" width="66" height="20"/><rect x="587" y="57" width="66" height="16"/><rect x="587" y="77" width="66" height="20"/><rect x="587" y="104" width="66" height="16"/><rect x="587" y="123" width="66" height="20"/><rect x="587" y="150" width="66" height="20"/><rect x="587" y="177" width="66" height="20"/><rect x="587" y="203" width="66" height="15"/><rect x="587" y="230" width="66" height="17"/><rect x="587" y="256" width="66" height="19"/><rect x="587" y="283" width="66" height="17"/><rect x="587" y="309" width="66" height="18"/><rect x="587" y="337" width="66" height="17"/><rect x="587" y="363" width="66" height="17"/></g>
</g>
<g class="bl" text-anchor="end">
<text x="585" y="22">PI3k</text><text x="585" y="36.5">p-PI3K</text><text x="585" y="47">(Tyr458/199)</text><text x="585" y="67.5">AKT</text><text x="585" y="84">p-AKT</text><text x="585" y="94">(Ser473)</text><text x="585" y="114.5">mTOR</text><text x="585" y="129.5">p-mTOR</text><text x="585" y="140">(Ser2448)</text><text x="585" y="162.5">CCND1</text><text x="585" y="189.5">CDK4</text><text x="585" y="213">CDK6</text><text x="585" y="240.5">RB1</text><text x="585" y="262.5">p-RB1</text><text x="585" y="273">(Ser807/811)</text><text x="585" y="294">PCNA</text><text x="585" y="320.5">CD44</text><text x="585" y="348">OCT4</text><text x="585" y="374">GAPDH</text>
</g>
<g class="kd">
<text x="656" y="22">110kD</text><text x="656" y="42.5">85/60kD</text><text x="656" y="67.5">60kD</text><text x="656" y="89.5">60kD</text><text x="656" y="114.5">280kD</text><text x="656" y="135.5">280kD</text><text x="656" y="162.5">37kD</text><text x="656" y="189.5">34kD</text><text x="656" y="213">37kD</text><text x="656" y="240.5">110kD</text><text x="656" y="268">110kD</text><text x="656" y="294">37kD</text><text x="656" y="320.5">80kD</text><text x="656" y="348">45kD</text><text x="656" y="374">37kD</text>
</g>
<g class="nm" text-anchor="middle">
<text x="595.25" y="55.5">1.0</text><text x="611.75" y="55.5">1.3</text><text x="628.25" y="55.5">0.5</text><text x="644.75" y="55.5">0.5</text>
<text x="595.25" y="102">1.0</text><text x="611.75" y="102">1.4</text><text x="628.25" y="102">0.5</text><text x="644.75" y="102">0.2</text>
<text x="595.25" y="148">1.0</text><text x="611.75" y="148">1.3</text><text x="628.25" y="148">0.4</text><text x="644.75" y="148">0.4</text>
<text x="595.25" y="175">1.0</text><text x="611.75" y="175">1.3</text><text x="628.25" y="175">0.4</text><text x="644.75" y="175">0.4</text>
<text x="595.25" y="202">1.0</text><text x="611.75" y="202">1.3</text><text x="628.25" y="202">0.4</text><text x="644.75" y="202">0.5</text>
<text x="595.25" y="227">1.0</text><text x="611.75" y="227">1.3</text><text x="628.25" y="227">0.5</text><text x="644.75" y="227">0.1</text>
<text x="595.25" y="254">1.0</text><text x="611.75" y="254">0.4</text><text x="628.25" y="254">0.4</text><text x="644.75" y="254">0.2</text>
<text x="595.25" y="281">1.0</text><text x="611.75" y="281">0.3</text><text x="628.25" y="281">0.3</text><text x="644.75" y="281">0.2</text>
<text x="595.25" y="307">1.0</text><text x="611.75" y="307">0.7</text><text x="628.25" y="307">0.5</text><text x="644.75" y="307">0.3</text>
<text x="595.25" y="335">1.0</text><text x="611.75" y="335">0.4</text><text x="628.25" y="335">0.4</text><text x="644.75" y="335">0.1</text>
<text x="595.25" y="361">1.0</text><text x="611.75" y="361">0.4</text><text x="628.25" y="361">0.5</text><text x="644.75" y="361">0.1</text>
</g>
<g class="rl" text-anchor="end"><text transform="translate(602,394) rotate(-32)">DMSO</text><text transform="translate(618,396) rotate(-32)">Palbociclib</text><text transform="translate(633,396) rotate(-32)">PF-04691502</text><text transform="translate(647,393) rotate(-32)">Combine</text></g>
</svg>
</body></html>
